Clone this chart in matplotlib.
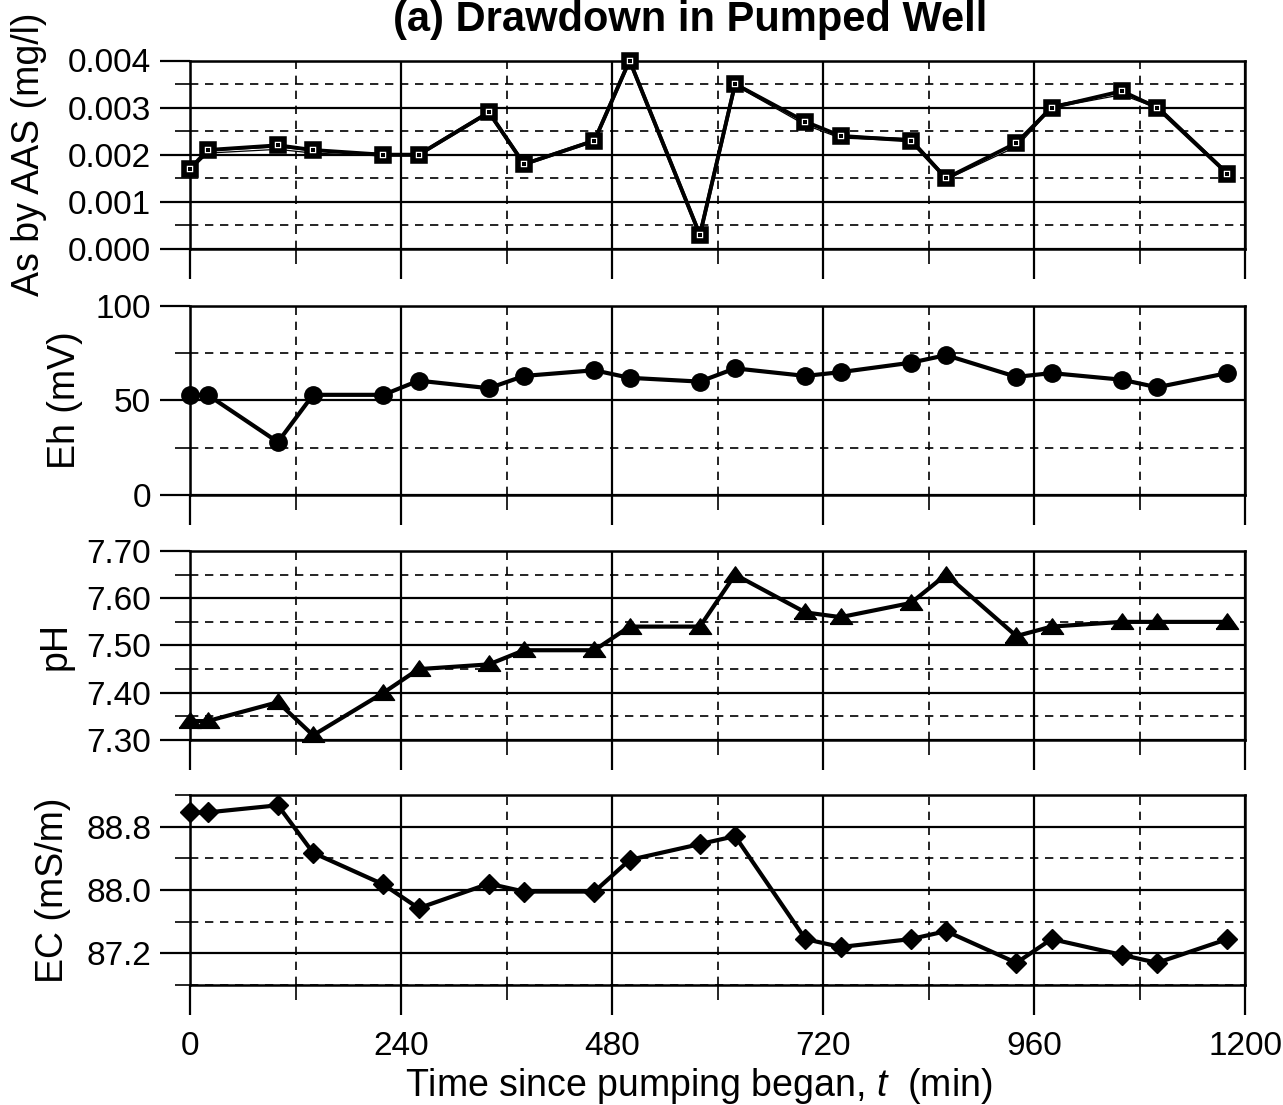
import matplotlib
matplotlib.use("Agg")
import matplotlib.pyplot as plt
from matplotlib.ticker import MultipleLocator, FixedLocator, FormatStrFormatter

plt.rcParams['font.family'] = ['Liberation Sans', 'DejaVu Sans']
plt.rcParams['mathtext.fontset'] = 'custom'
plt.rcParams['mathtext.rm'] = 'Liberation Sans'
plt.rcParams['mathtext.it'] = 'Liberation Sans:italic'

# ---- data ----
time_min = [0, 20, 100, 140, 220, 260, 340, 380, 460, 500, 580,
            620, 700, 740, 820, 860, 940, 980, 1060, 1100, 1180]
as_aas = [0.0017, 0.0021, 0.0022, 0.0021, 0.0020, 0.0020, 0.0029, 0.0018, 0.0023, 0.0040, 0.0003,
          0.0035, 0.0027, 0.0024, 0.0023, 0.0015, 0.00225, 0.0030, 0.00335, 0.0030, 0.0016]
as_aas_dup = [0.0017, 0.00206, 0.00214, 0.00206, 0.0020, 0.0020, 0.0029, 0.0018, 0.0023, 0.0040, 0.0003,
              0.0035, 0.00266, 0.00238, 0.00232, 0.0015, 0.0022, 0.00302, 0.0033, 0.00302, 0.0016]
eh_mv = [53, 53, 28, 53, 53, 60.5, 56.5, 63, 66, 62, 60,
         67, 63, 65, 70, 74, 62.5, 64.5, 61, 57, 64.5]
ph = [7.34, 7.34, 7.38, 7.31, 7.40, 7.45, 7.46, 7.49, 7.49, 7.54, 7.54,
      7.65, 7.57, 7.56, 7.59, 7.65, 7.52, 7.54, 7.55, 7.55, 7.55]
ec = [88.98, 88.98, 89.07, 88.47, 88.07, 87.77, 88.08, 87.98, 87.98, 88.38, 88.58,
      88.68, 87.38, 87.28, 87.38, 87.48, 87.08, 87.38, 87.18, 87.08, 87.38]

x_ticks = [0, 240, 480, 720, 960, 1200]
title = "(a) Drawdown in Pumped Well"
xlabel = "Time since pumping began, $t$  (min)"
ylabels = ["As by AAS (mg/l)", "Eh (mV)", "pH", "EC (mS/m)"]

W, H = 1283, 1105
fig = plt.figure(figsize=(W / 100, H / 100), dpi=100)

L = 190 / W
Wd = 1055 / W
panels = [(60.5, 249), (306, 495), (551, 740), (795, 985)]
label_right_px = [47, 83, 74, 71]
axes = []
for top, bot in panels:
    ax = fig.add_axes([L, 1 - bot / H, Wd, (bot - top) / H])
    axes.append(ax)

TICK_FS = 24
LAB_FS = 27
px = 72 / 100.0  # points per pixel

for i, ax in enumerate(axes):
    ax.set_xlim(0, 1200)
    ax.xaxis.set_major_locator(FixedLocator(x_ticks))
    ax.xaxis.set_minor_locator(MultipleLocator(120))
    ax.grid(True, which='major', color='black', lw=1.6, ls='-', zorder=1)
    ax.grid(True, which='minor', color='black', lw=1.2, ls=(0, (5, 4)), zorder=1)
    ax.set_axisbelow(True)
    ax.tick_params(which='major', direction='out', length=30 * px, width=1.6,
                   labelsize=TICK_FS, pad=9 * px)
    ax.tick_params(which='minor', direction='out', length=15 * px, width=1.2)
    ax.tick_params(axis='x', which='major', pad=16 * px)
    for s in ax.spines.values():
        s.set_linewidth(1.8)
    if i < 3:
        ax.tick_params(axis='x', labelbottom=False)
    ax.set_ylabel(ylabels[i], fontsize=LAB_FS)
    ax.yaxis.set_label_coords((label_right_px[i] - 190) / 1055, 0.5)

# Panel 1: As
ax = axes[0]
ax.set_ylim(0, 0.004)
ax.yaxis.set_major_locator(MultipleLocator(0.001))
ax.yaxis.set_minor_locator(MultipleLocator(0.0005))
ax.yaxis.set_major_formatter(FormatStrFormatter('%.3f'))
ax.plot(time_min, as_aas_dup, color='black', lw=2.6, zorder=3, clip_on=False)
ax.plot(time_min, as_aas_dup, color='white', lw=0.8, zorder=3.5, clip_on=False)
ax.plot(time_min, as_aas, color='black', lw=2.8, marker='s', ms=8.5, mfc='white',
        mec='black', mew=4, zorder=5, clip_on=False)
ax.plot(time_min, as_aas, ls='none', marker='s', ms=2.2, mfc='black', mec='black',
        mew=0, zorder=6, clip_on=False)

# Panel 2: Eh
ax = axes[1]
ax.set_ylim(0, 100)
ax.yaxis.set_major_locator(MultipleLocator(50))
ax.yaxis.set_minor_locator(MultipleLocator(25))
ax.plot(time_min, eh_mv, color='black', lw=3, marker='o', ms=12.5, mfc='black',
        mec='black', zorder=5, clip_on=False)

# Panel 3: pH
ax = axes[2]
ax.set_ylim(7.30, 7.70)
ax.yaxis.set_major_locator(MultipleLocator(0.1))
ax.yaxis.set_minor_locator(MultipleLocator(0.05))
ax.yaxis.set_major_formatter(FormatStrFormatter('%.2f'))
tri = [(-1.0, -0.62), (1.0, -0.62), (0.0, 0.78), (-1.0, -0.62)]
ax.plot(time_min, ph, color='black', lw=3, marker=tri, ms=16, mfc='black',
        mec='black', zorder=5, clip_on=False)

# Panel 4: EC
ax = axes[3]
ax.set_ylim(86.8, 89.2)
ax.yaxis.set_major_locator(FixedLocator([87.2, 88.0, 88.8]))
ax.yaxis.set_minor_locator(FixedLocator([86.8, 87.6, 88.4, 89.2]))
ax.yaxis.set_major_formatter(FormatStrFormatter('%.1f'))
ax.plot(time_min, ec, color='black', lw=3, marker='D', ms=10, mfc='black',
        mec='black', zorder=5, clip_on=False)

fig.text(690 / W, 1 - 31 / H, title, ha='center', va='baseline',
         fontsize=30, fontweight='bold')
fig.text(699 / W, 1 - 1096 / H, xlabel, ha='center', va='baseline', fontsize=LAB_FS)

fig.savefig("out.png", dpi=100)
